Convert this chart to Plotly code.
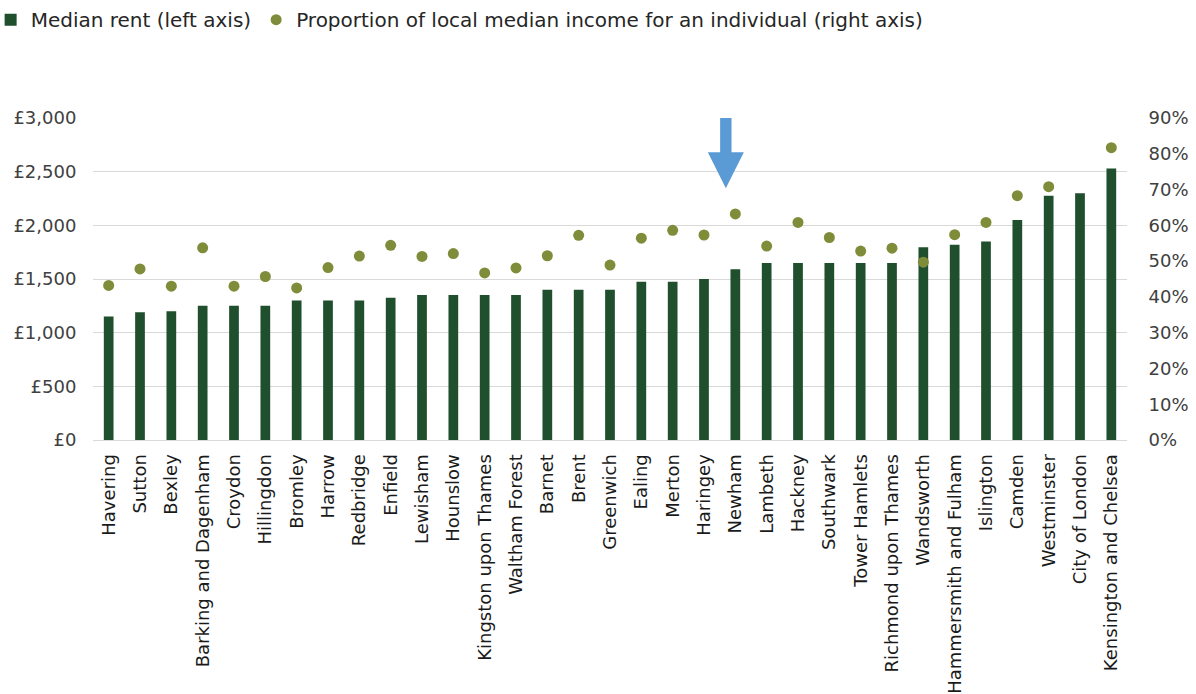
import plotly.graph_objects as go

# London boroughs ordered by median monthly rent
boroughs = [
    "Havering", "Sutton", "Bexley", "Barking and Dagenham", "Croydon",
    "Hillingdon", "Bromley", "Harrow", "Redbridge", "Enfield", "Lewisham",
    "Hounslow", "Kingston upon Thames", "Waltham Forest", "Barnet", "Brent",
    "Greenwich", "Ealing", "Merton", "Haringey", "Newham", "Lambeth",
    "Hackney", "Southwark", "Tower Hamlets", "Richmond upon Thames",
    "Wandsworth", "Hammersmith and Fulham", "Islington", "Camden",
    "Westminster", "City of London", "Kensington and Chelsea",
]

# Median monthly rent (£)
median_rent = [
    1150, 1190, 1200, 1250, 1250, 1250, 1300, 1300, 1300, 1325, 1350,
    1350, 1350, 1350, 1400, 1400, 1400, 1475, 1475, 1500, 1590, 1650,
    1650, 1650, 1650, 1650, 1795, 1820, 1850, 2050, 2275, 2300, 2530,
]

# Rent as a share of local median individual income (None = not available)
income_share = [
    0.432, 0.478, 0.430, 0.537, 0.430, 0.457, 0.425, 0.482, 0.514, 0.544,
    0.513, 0.521, 0.467, 0.481, 0.515, 0.572, 0.489, 0.564, 0.586, 0.573,
    0.632, 0.542, 0.608, 0.566, 0.528, 0.536, 0.497, 0.574, 0.608, 0.683,
    0.708, None, 0.817,
]

highlight = "Newham"

BAR_GREEN = "#1f4f2c"
DOT_OLIVE = "#7f8c3a"
GRID = "#d9d9d9"
TICK_TXT = "#404040"
FONT = "DejaVu Sans"

fig = go.Figure()

fig.add_trace(go.Bar(
    x=boroughs, y=median_rent,
    name="Median rent (left axis)",
    marker=dict(color=BAR_GREEN, line=dict(width=0)),
    width=0.31,
    yaxis="y",
))

fig.add_trace(go.Scatter(
    x=boroughs, y=income_share,
    name="Proportion of local median income for an individual (right axis)",
    mode="markers",
    marker=dict(color=DOT_OLIVE, size=11, line=dict(width=0)),
    yaxis="y2",
))

# Downward arrow pointing at the highlighted borough (pixel path anchored at the category)
fig.add_shape(
    type="path",
    xref="x", yref="y",
    xsizemode="pixel", ysizemode="pixel",
    xanchor=highlight, yanchor=2345,
    path="M -9.5,0 L -27.5,36 L -15.2,36 L -15.2,75 L -3.8,75 L -3.8,36 L 8.5,36 Z",
    fillcolor="#5b9bd5",
    line=dict(width=0),
    layer="above",
)

fig.update_layout(
    width=1196, height=694,
    margin=dict(l=93, r=69, t=118, b=254, autoexpand=False),
    paper_bgcolor="white",
    plot_bgcolor="white",
    showlegend=True,
    legend=dict(
        orientation="h",
        xref="paper", yref="paper",
        x=-0.099, y=1.366, xanchor="left", yanchor="top",
        font=dict(family=FONT, size=20, color="#262626"),
        itemwidth=30,
        bgcolor="rgba(0,0,0,0)",
    ),
    xaxis=dict(
        type="category",
        range=[-0.5, len(boroughs) - 0.5],
        automargin=False,
        tickangle=-90,
        tickfont=dict(family=FONT, size=18, color="#1a1a1a"),
        showgrid=False,
        showline=False,
        ticks="outside", ticklen=6, tickcolor="rgba(0,0,0,0)",
    ),
    yaxis=dict(
        automargin=False,
        range=[0, 3000],
        dtick=500,
        tickprefix="£",
        tickformat=",d",
        tickfont=dict(family=FONT, size=18, color=TICK_TXT),
        showgrid=True, gridcolor=GRID, gridwidth=1,
        zeroline=True, zerolinecolor=GRID, zerolinewidth=1,
        ticks="outside", ticklen=12, tickcolor="rgba(0,0,0,0)",
    ),
    yaxis2=dict(
        automargin=False,
        range=[0, 0.9],
        dtick=0.1,
        tickformat=".0%",
        overlaying="y",
        side="right",
        showgrid=False,
        zeroline=False,
        tickfont=dict(family=FONT, size=18, color=TICK_TXT),
        ticks="outside", ticklen=17, tickcolor="rgba(0,0,0,0)",
    ),
)

fig.write_html("out.html")
